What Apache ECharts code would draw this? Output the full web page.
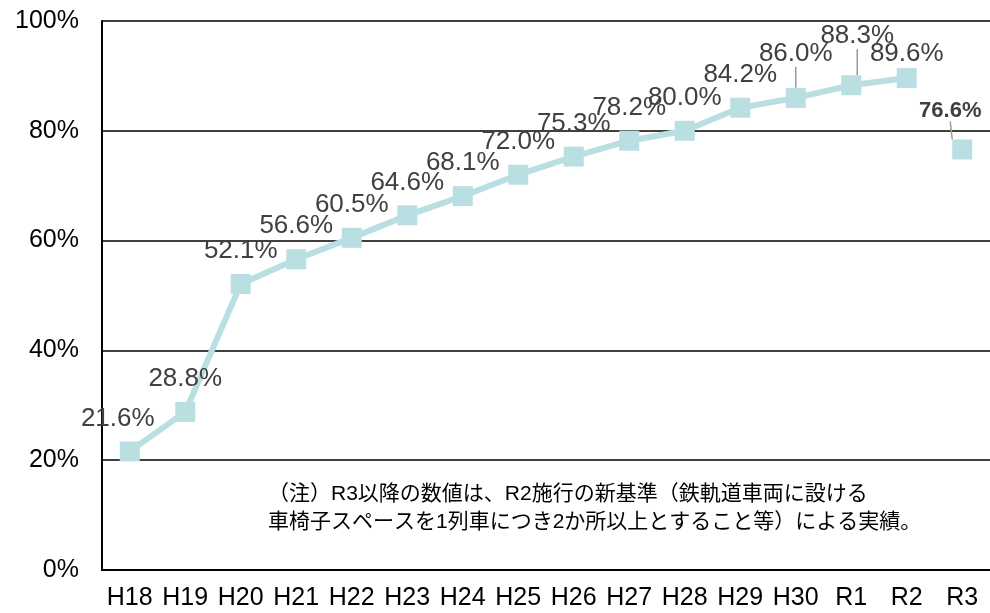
<!DOCTYPE html>
<html>
<head>
<meta charset="utf-8">
<script src="https://cdn.jsdelivr.net/npm/echarts@6/dist/echarts.min.js"></script>
<style>
  html, body { margin: 0; padding: 0; background: #fff; }
  #main { width: 990px; height: 613px; }
</style>
</head>
<body>
<div id="main"></div>
<script>
  // 年度
  var categories = ['H18', 'H19', 'H20', 'H21', 'H22', 'H23', 'H24', 'H25', 'H26', 'H27', 'H28', 'H29', 'H30', 'R1', 'R2', 'R3']
  // 旧基準の実績 (H18〜R2)
  var oldValues = [21.6, 28.8, 52.1, 56.6, 60.5, 64.6, 68.1, 72.0, 75.3, 78.2, 80.0, 84.2, 86.0, 88.3, 89.6, null]
  // 新基準の実績 (R3)
  var newValues = [null, null, null, null, null, null, null, null, null, null, null, null, null, null, null, 76.6]
  var yTicks = [0, 20, 40, 60, 80, 100]
  var noteLines = ['（注）R3以降の数値は、R2施行の新基準（鉄軌道車両に設ける', '車椅子スペースを1列車につき2か所以上とすること等）による実績。']

  var FONT = '"Liberation Sans", Arial, "Noto Sans CJK JP", sans-serif'
  var LINE_COLOR = '#b9dfe2'

  // ラベルの位置調整 (dx, dy)
  var labelShift = {
    'H18': [-12, 0],
    'H30': [0, -11],
    'R1': [6, -16],
    'R2': [0, 9],
    'R3': [-12, -6]
  }
  var withLeader = { 'H30': true, 'R1': true, 'R3': true }

  function toData(values) {
    return values.map(function (v, i) {
      return {
        value: v,
        labelLine: { show: !!withLeader[categories[i]], lineStyle: { color: '#999', width: 1.5 } }
      }
    })
  }

  function shiftLabel(p) {
    var s = labelShift[categories[p.dataIndex]] || [0, 0]
    return { dx: s[0], dy: s[1] }
  }

  var chart = echarts.init(document.getElementById('main'))
  chart.setOption({
    animation: false,
    textStyle: { fontFamily: FONT },
    grid: { left: 102, right: -7, top: 21, bottom: 43 },
    xAxis: {
      type: 'category',
      data: categories,
      boundaryGap: true,
      axisLine: { lineStyle: { color: '#000', width: 2 } },
      axisTick: { show: false },
      axisLabel: { color: '#000', fontSize: 25, margin: 16, interval: 0, hideOverlap: false, fontFamily: FONT }
    },
    yAxis: {
      type: 'value',
      min: 0,
      max: 100,
      interval: 20,
      axisLine: { show: true, lineStyle: { color: '#000', width: 2 } },
      axisTick: { show: false },
      splitLine: { lineStyle: { color: '#000', width: 1.5 } },
      axisLabel: {
        color: '#000', fontSize: 25, margin: 23, fontFamily: FONT,
        formatter: function (v) { return yTicks.indexOf(v) >= 0 ? v + '%' : '' }
      }
    },
    series: [{
      name: '旧基準',
      type: 'line',
      data: toData(oldValues),
      symbol: 'rect',
      symbolSize: 20,
      connectNulls: false,
      lineStyle: { color: LINE_COLOR, width: 6 },
      itemStyle: { color: LINE_COLOR },
      labelLayout: shiftLabel,
      label: {
        show: true,
        position: 'top',
        distance: 10,
        color: '#404040',
        fontSize: 26,
        fontFamily: FONT,
        formatter: function (p) { return p.value == null ? '' : p.value.toFixed(1) + '%' }
      }
    }, {
      name: '新基準',
      type: 'line',
      data: toData(newValues),
      symbol: 'rect',
      symbolSize: 20,
      lineStyle: { color: LINE_COLOR, width: 6 },
      itemStyle: { color: LINE_COLOR },
      labelLayout: shiftLabel,
      label: {
        show: true,
        position: 'top',
        distance: 12,
        color: '#404040',
        fontSize: 22,
        fontWeight: 'bold',
        fontFamily: FONT,
        formatter: function (p) { return p.value == null ? '' : p.value.toFixed(1) + '%' }
      }
    }],
    graphic: noteLines.map(function (t, i) {
      return {
        type: 'text',
        left: 268,
        top: 484 + i * 28,
        style: { text: t, fill: '#000', fontSize: 21, fontFamily: FONT }
      }
    })
  })
</script>
</body>
</html>
